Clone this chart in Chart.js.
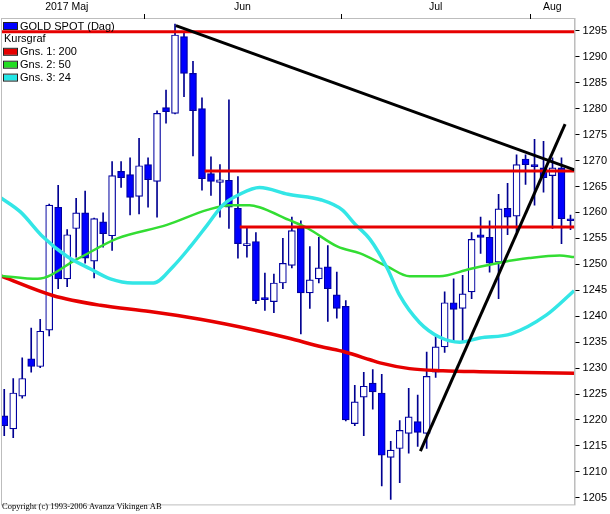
<!DOCTYPE html>
<html>
<head>
<meta charset="utf-8">
<script src="https://cdn.jsdelivr.net/npm/chart.js@4.4.0/dist/chart.umd.min.js"></script>
<style>
  html, body { margin: 0; padding: 0; background: #fff; }
</style>
</head>
<body>
<canvas id="myChart" width="610" height="514"></canvas>
<script>
// GOLD SPOT daily candles, one per weekday (10 May - 7 Aug 2017)
const opens = [1220.8, 1218.3, 1224.6, 1231.8, 1230.3, 1237.3, 1261.0, 1247.2, 1256.9, 1259.9,
  1250.6, 1258.2, 1255.5, 1267.9, 1267.3, 1263.1, 1269.2, 1266.0, 1280.2, 1279.1,
  1293.9, 1286.8, 1280.0, 1267.5, 1265.8, 1266.2, 1260.8, 1253.6, 1254.4, 1243.4,
  1242.8, 1246.4, 1249.8, 1257.0, 1244.5, 1247.2, 1249.5, 1244.1, 1241.9, 1219.3,
  1224.4, 1227.1, 1225.2, 1212.8, 1214.5, 1217.4, 1219.7, 1217.4, 1229.2, 1234.1,
  1242.6, 1241.5, 1244.7, 1255.7, 1255.2, 1250.4, 1260.8, 1259.3, 1270.3, 1269.2,
  1268.6, 1267.1, 1268.6, 1258.5];
const highs = [1225.9, 1228.0, 1232.0, 1237.7, 1239.4, 1261.6, 1265.2, 1256.7, 1262.7, 1264.1,
  1258.9, 1259.9, 1269.8, 1269.8, 1270.5, 1274.3, 1270.5, 1279.6, 1283.6, 1296.3,
  1294.5, 1289.1, 1282.1, 1270.7, 1269.2, 1281.7, 1266.9, 1257.2, 1256.1, 1248.3,
  1248.1, 1255.0, 1259.1, 1258.4, 1253.4, 1255.2, 1253.6, 1248.5, 1243.0, 1226.7,
  1229.2, 1229.7, 1228.8, 1215.9, 1219.9, 1226.1, 1224.8, 1233.1, 1236.2, 1244.7,
  1247.2, 1247.9, 1256.1, 1259.1, 1258.4, 1263.5, 1265.6, 1271.1, 1271.1, 1274.1,
  1273.7, 1270.5, 1270.5, 1259.5];
const lows = [1217.0, 1216.6, 1224.2, 1229.2, 1230.1, 1236.2, 1245.3, 1245.7, 1251.4, 1250.2,
  1247.4, 1253.3, 1252.7, 1264.8, 1259.5, 1259.7, 1261.0, 1259.1, 1277.2, 1279.0,
  1282.3, 1270.9, 1264.3, 1263.3, 1259.1, 1256.9, 1251.2, 1251.4, 1242.4, 1241.1,
  1240.7, 1245.3, 1249.3, 1236.6, 1241.5, 1246.4, 1239.0, 1239.6, 1219.8, 1218.9,
  1217.0, 1222.1, 1207.3, 1204.7, 1207.9, 1213.6, 1214.9, 1214.5, 1228.2, 1233.0,
  1235.0, 1235.0, 1243.4, 1252.1, 1248.5, 1243.4, 1255.7, 1256.3, 1265.4, 1261.4,
  1263.9, 1256.9, 1254.0, 1256.7];
const closes = [1218.9, 1225.2, 1228.0, 1230.3, 1237.1, 1261.4, 1247.2, 1255.7, 1259.9, 1251.2,
  1258.8, 1255.9, 1267.1, 1266.7, 1262.9, 1269.0, 1266.3, 1279.1, 1279.4, 1294.2,
  1286.8, 1279.6, 1266.5, 1266.0, 1266.3, 1261.0, 1254.0, 1254.0, 1243.0, 1243.2,
  1246.4, 1250.2, 1256.5, 1244.5, 1247.0, 1249.3, 1245.3, 1241.5, 1220.0, 1223.5,
  1226.5, 1225.4, 1213.2, 1214.2, 1218.0, 1220.6, 1217.6, 1228.4, 1234.1, 1242.6,
  1241.3, 1244.3, 1254.8, 1255.2, 1250.2, 1260.7, 1259.1, 1269.2, 1269.2, 1268.8,
  1266.7, 1268.6, 1258.8, 1258.4];

// moving averages at these candle positions
const ma200At = [-0.44, 5.4, 10.7, 16.2, 21.8, 27.9, 31.6, 35.3, 37.9, 40.7, 41.8, 45.1, 48.8, 52.9, 63.4];
const ma200 = [1247.8, 1244.0, 1242.1, 1240.9, 1239.4, 1237.3, 1235.8, 1234.1, 1233.1, 1231.6, 1231.0, 1229.9, 1229.5, 1229.3, 1229.0];
const ma50At = [-0.44, 3.7, 8.1, 12.6, 18.1, 22.6, 25.1, 27.3, 28.4, 31.6, 33.8, 37.1, 39.6, 42.6, 45.1, 48.4, 51.8, 55.4, 58.4, 61.8, 63.4];
const ma50 = [1247.8, 1247.2, 1251.0, 1255.0, 1257.6, 1260.5, 1261.4, 1261.4, 1261.0, 1258.6, 1256.9, 1253.4, 1252.1, 1249.6, 1247.7, 1247.7, 1249.1, 1250.4, 1251.2, 1251.7, 1251.4];
const ma24At = [-0.44, 1.8, 4.3, 7.0, 9.6, 11.8, 14.3, 16.6, 18.8, 20.7, 22.6, 24.3, 26.2, 28.4, 31.6, 35.3, 37.6, 39.0, 40.7, 42.6, 44.0, 46.2, 48.4, 50.7, 52.9, 56.4, 60.3, 63.4];
const ma24 = [1262.9, 1260.1, 1255.3, 1251.5, 1249.1, 1247.2, 1246.4, 1246.4, 1249.6, 1253.4, 1257.6, 1261.4, 1263.5, 1264.8, 1263.5, 1262.4, 1260.5, 1257.8, 1254.8, 1249.3, 1244.0, 1238.8, 1236.0, 1235.0, 1235.8, 1236.6, 1240.2, 1244.9];

// drawn support/resistance levels and trend lines
const levels = [1294.8, 1268.0, 1257.2];
const levelFrom = [-0.3, 22.3, 26.2];
const trend1 = [[19.1, 1296.0], [63.45, 1268.2]];
const trend2 = [[46.3, 1214.0], [62.4, 1277.0]];

const yTicks = [1205, 1210, 1215, 1220, 1225, 1230, 1235, 1240, 1245, 1250, 1255, 1260, 1265, 1270, 1275, 1280, 1285, 1290, 1295];
const monthNames = ['2017 Maj', 'Jun', 'Jul', 'Aug'];
const monthStart = [0, 16, 38, 59];

const legendRows = [
  ['GOLD SPOT (Dag)', '#0000ff'],
  ['Kursgraf', null],
  ['Gns. 1: 200', '#e60000'],
  ['Gns. 2: 50', '#22dd22'],
  ['Gns. 3: 24', '#22e6e6']
];

const SANS = '"Liberation Sans", Arial, sans-serif';

let xy = (xs, ys) => xs.map((x, i) => ({ x: x, y: ys[i] }));

let wickData = opens.map((o, i) => ({ x: i, y: [lows[i], highs[i]] }));
let bodyData = opens.map((o, i) => ({ x: i, y: [o, closes[i]] }));
let bodyFill = opens.map((o, i) => closes[i] >= o ? '#ffffff' : '#0000ff');

let levelSets = levels.map((v, i) => ({
  type: 'line',
  data: [{ x: levelFrom[i], y: v }, { x: 63.45, y: v }],
  borderColor: '#e60000',
  borderWidth: 3,
  pointRadius: 0,
  order: 2
}));

let trendSets = [trend1, trend2].map(t => ({
  type: 'line',
  data: t.map(p => ({ x: p[0], y: p[1] })),
  borderColor: '#000000',
  borderWidth: 3,
  pointRadius: 0,
  order: 1
}));

let maLine = (pts, color, w, ord) => ({
  type: 'line',
  data: pts,
  borderColor: color,
  borderWidth: w,
  pointRadius: 0,
  cubicInterpolationMode: 'monotone',
  order: ord
});

// frame, month labels, legend and copyright line
const decor = {
  id: 'decor',
  beforeDraw(chart) {
    let ctx = chart.ctx;
    ctx.save();
    ctx.fillStyle = '#ffffff';
    ctx.fillRect(0, 0, chart.width, chart.height);
    ctx.restore();
  },
  afterDraw(chart) {
    let ctx = chart.ctx;
    let a = chart.chartArea;
    let xs = chart.scales.x;
    ctx.save();

    ctx.strokeStyle = '#bdbdbd';
    ctx.lineWidth = 1;
    ctx.strokeRect(a.left - 0.5, a.top - 0.5, a.right - a.left + 1, a.bottom - a.top + 1);

    ctx.fillStyle = '#000';
    ctx.strokeStyle = '#000';
    ctx.font = '10.5px ' + SANS;
    ctx.textAlign = 'center';
    ctx.textBaseline = 'middle';
    for (let m = 0; m < monthNames.length; m++) {
      let from = Math.max(monthStart[m] - 0.5, xs.min);
      let to = m + 1 < monthStart.length ? monthStart[m + 1] - 0.5 : xs.max;
      ctx.fillText(monthNames[m], xs.getPixelForValue((from + to) / 2) - (m == 0 ? 6 : 0), 7.5);
      if (m > 0) {
        let px = Math.round(xs.getPixelForValue(monthStart[m] - 0.5)) + 0.5;
        ctx.beginPath();
        ctx.moveTo(px, 14);
        ctx.lineTo(px, a.top);
        ctx.stroke();
      }
    }

    ctx.font = '11px ' + SANS;
    ctx.textAlign = 'left';
    legendRows.forEach((r, i) => {
      let y = 26 + i * 12.9;
      if (r[1]) {
        ctx.fillStyle = r[1];
        ctx.fillRect(4, y - 3, 13, 6);
        ctx.strokeStyle = '#222';
        ctx.strokeRect(3.5, y - 3.5, 14, 7);
        ctx.fillStyle = '#000';
        ctx.fillText(r[0], 20, y + 0.5);
      } else {
        ctx.fillStyle = '#000';
        ctx.fillText(r[0], 4, y + 0.5);
      }
    });

    ctx.font = '8.5px "Liberation Serif", "Times New Roman", serif';
    ctx.fillText('Copyright (c) 1993-2006 Avanza Vikingen AB', 2, 507);
    ctx.restore();
  }
};

new Chart(document.getElementById('myChart'), {
  type: 'bar',
  data: {
    datasets: [
      {
        data: wickData,
        backgroundColor: '#000090',
        barThickness: 1,
        grouped: false,
        order: 10
      },
      {
        data: bodyData,
        backgroundColor: bodyFill,
        borderColor: '#0000a0',
        borderWidth: 1.2,
        borderSkipped: false,
        barThickness: 7,
        minBarLength: 2,
        grouped: false,
        order: 9
      },
      maLine(xy(ma200At, ma200), '#e60000', 3.5, 5),
      maLine(xy(ma50At, ma50), '#33dd33', 2.5, 4),
      maLine(xy(ma24At, ma24), '#33e6e6', 3.5, 3),
      ...levelSets,
      ...trendSets
    ]
  },
  options: {
    responsive: false,
    animation: false,
    devicePixelRatio: 1,
    layout: { padding: { left: 2, top: 19, right: 0, bottom: 2 } },
    plugins: { legend: { display: false }, tooltip: { enabled: false } },
    scales: {
      x: {
        type: 'linear',
        min: -0.25,
        max: 63.45,
        offset: false,
        display: false
      },
      y: {
        position: 'right',
        min: 1203.73,
        max: 1297.28,
        afterBuildTicks: scale => { scale.ticks = yTicks.map(v => ({ value: v })); },
        grid: { drawOnChartArea: false, drawTicks: true, tickLength: 5, color: '#000' },
        border: { display: true, color: '#bdbdbd' },
        ticks: { color: '#000', padding: 3, font: { family: SANS, size: 11 }, callback: v => String(v) }
      }
    }
  },
  plugins: [decor]
});
</script>
</body>
</html>
